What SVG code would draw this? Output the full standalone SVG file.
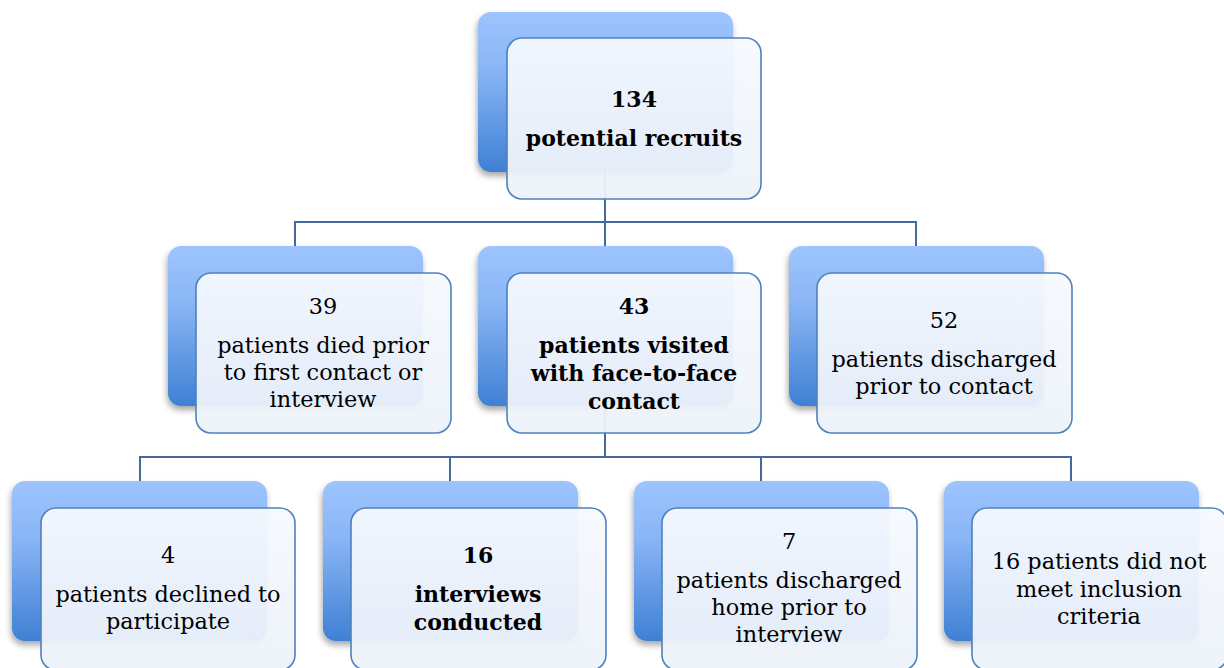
<svg xmlns="http://www.w3.org/2000/svg" width="1224" height="668" viewBox="0 0 1224 668">
<style>
.back{fill:url(#gBack);filter:url(#sh)}
.front{fill:url(#gFront);fill-opacity:0.94;stroke:#4f81bd;stroke-width:1.6}
.conn{fill:none;stroke:#46699c;stroke-width:2}
text{font-family:"DejaVu Serif","Liberation Serif",serif;font-size:22.4px;fill:#000;text-anchor:middle}
.b{font-weight:bold;font-size:22px}
</style>
<defs>
<linearGradient id="gBack" x1="0" y1="0" x2="0" y2="1">
<stop offset="0" stop-color="#9dc4fe"/>
<stop offset="0.35" stop-color="#8ab6f6"/>
<stop offset="1" stop-color="#3f80d4"/>
</linearGradient>
<linearGradient id="gFront" x1="0" y1="0" x2="0" y2="1">
<stop offset="0" stop-color="#f6f9fe"/>
<stop offset="1" stop-color="#edf2fa"/>
</linearGradient>
<filter id="sh" x="-10%" y="-10%" width="125%" height="130%">
<feDropShadow dx="-1" dy="4" stdDeviation="3" flood-color="#000" flood-opacity="0.35"/>
</filter>
</defs>
<g id="connectors">
<path class="conn" d="M605,172 V222 M295,246 V222 H916 V246 M605,222 V246"/>
<path class="conn" d="M605,406 V457 M140,481 V457 H1071 V481 M450,457 V481 M761,457 V481"/>
</g>
<g id="n134">
<rect class="back" x="478" y="12" width="255" height="160" rx="13"/>
<rect class="front" x="507" y="38" width="254" height="161" rx="15"/>
<text class="b" x="634" y="107">134</text>
<text class="b" x="634" y="146">potential recruits</text>
</g>
<g id="n39">
<rect class="back" x="168" y="246" width="255" height="160" rx="13"/>
<rect class="front" x="196" y="273" width="255" height="160" rx="15"/>
<text x="323" y="314">39</text>
<text x="323" y="353">patients died prior</text>
<text x="323" y="380">to first contact or</text>
<text x="323" y="407">interview</text>
</g>
<g id="n43">
<rect class="back" x="478" y="246" width="255" height="160" rx="13"/>
<rect class="front" x="507" y="273" width="254" height="160" rx="15"/>
<text class="b" x="634" y="314">43</text>
<text class="b" x="634" y="353">patients visited</text>
<text class="b" x="634" y="381">with face-to-face</text>
<text class="b" x="634" y="409">contact</text>
</g>
<g id="n52">
<rect class="back" x="789" y="246" width="255" height="160" rx="13"/>
<rect class="front" x="817" y="273" width="255" height="160" rx="15"/>
<text x="944" y="328">52</text>
<text x="944" y="367">patients discharged</text>
<text x="944" y="394">prior to contact</text>
</g>
<g id="n4">
<rect class="back" x="12" y="481" width="255" height="160" rx="13"/>
<rect class="front" x="41" y="508" width="254" height="162" rx="15"/>
<text x="168" y="563">4</text>
<text x="168" y="602">patients declined to</text>
<text x="168" y="629">participate</text>
</g>
<g id="n16">
<rect class="back" x="323" y="481" width="255" height="160" rx="13"/>
<rect class="front" x="351" y="508" width="255" height="162" rx="15"/>
<text class="b" x="478" y="563">16</text>
<text class="b" x="478" y="602">interviews</text>
<text class="b" x="478" y="630">conducted</text>
</g>
<g id="n7">
<rect class="back" x="634" y="481" width="255" height="160" rx="13"/>
<rect class="front" x="662" y="508" width="255" height="162" rx="15"/>
<text x="789" y="549">7</text>
<text x="789" y="588">patients discharged</text>
<text x="789" y="615">home prior to</text>
<text x="789" y="642">interview</text>
</g>
<g id="n16b">
<rect class="back" x="944" y="481" width="255" height="160" rx="13"/>
<rect class="front" x="972" y="508" width="255" height="162" rx="15"/>
<text x="1099" y="569">16 patients did not</text>
<text x="1099" y="597">meet inclusion</text>
<text x="1099" y="624">criteria</text>
</g>
</svg>
